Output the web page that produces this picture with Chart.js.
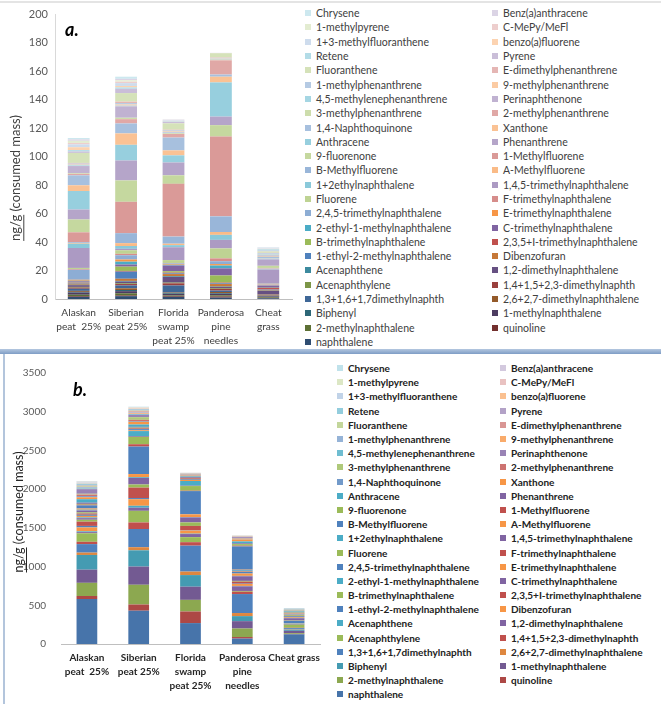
<!DOCTYPE html>
<html>
<head>
<meta charset="utf-8">
<script src="https://cdn.jsdelivr.net/npm/chart.js@4.4.1/dist/chart.umd.min.js"></script>
<style>
  body { margin: 0; background: #fff; width: 661px; height: 704px; position: relative; overflow: hidden; font-family: Lato, "Open Sans", sans-serif; }
  .box { position: absolute; }
  .legend { position: absolute; display: grid; grid-auto-flow: row; }
  .legend div { white-space: nowrap; display: flex; align-items: center; }
  .legend .sw { display: inline-block; width: 6px; height: 6px; margin-right: 5px; flex: none; }
  .tag { position: absolute; font-weight: bold; font-style: italic; font-size: 18px; color: #000; }
</style>
</head>
<body>
<div class="box" style="left:0;top:1px;width:661px;height:2px;background:#e4e4e4"></div>
<div class="box" style="left:0;top:0;width:300px;height:347px"><canvas id="topChart"></canvas></div>
<div id="topLegend" class="legend" style="left:305px;top:6px;grid-template-columns:187px 170px;grid-auto-rows:14.3px;font-size:10.5px;color:#404040"></div>
<div class="tag" style="left:65px;top:18px">a.</div>

<div class="box" style="left:0;top:349px;width:661px;height:5px;background:linear-gradient(#b4c7e0,#7e9dc5)"></div>
<div class="box" style="left:3px;top:354px;width:2px;height:350px;background:#b3c5dc"></div>
<div class="box" style="left:0;top:352px;width:330px;height:352px"><canvas id="botChart"></canvas></div>
<div id="botLegend" class="legend" style="left:337px;top:361px;grid-template-columns:163px 170px;grid-auto-rows:14.2px;font-size:10px;font-weight:bold;color:#222"></div>
<div class="tag" style="left:73px;top:378px">b.</div>

<script>
// series in stacking order, bottom first
const compounds = ['naphthalene', 'quinoline', '2-methylnaphthalene', '1-methylnaphthalene', 'Biphenyl',
  '2,6+2,7-dimethylnaphthalene', '1,3+1,6+1,7dimethylnaphth', '1,4+1,5+2,3-dimethylnaphth', 'Acenaphthylene',
  '1,2-dimethylnaphthalene', 'Acenaphthene', 'Dibenzofuran', '1-ethyl-2-methylnaphthalene',
  '2,3,5+I-trimethylnaphthalene', 'B-trimethylnaphthalene', 'C-trimethylnaphthalene', '2-ethyl-1-methylnaphthalene',
  'E-trimethylnaphthalene', '2,4,5-trimethylnaphthalene', 'F-trimethylnaphthalene', 'Fluorene',
  '1,4,5-trimethylnaphthalene', '1+2ethylnaphthalene', 'A-Methylfluorene', 'B-Methylfluorene', '1-Methylfluorene',
  '9-fluorenone', 'Phenanthrene', 'Anthracene', 'Xanthone', '1,4-Naphthoquinone', '2-methylphenanthrene',
  '3-methylphenanthrene', 'Perinaphthenone', '4,5-methylenephenanthrene', '9-methylphenanthrene',
  '1-methylphenanthrene', 'E-dimethylphenanthrene', 'Fluoranthene', 'Pyrene', 'Retene', 'benzo(a)fluorene',
  '1+3-methylfluoranthene', 'C-MePy/MeFl', '1-methylpyrene', 'Benz(a)anthracene', 'Chrysene'];

const topLabels = [['Alaskan', 'peat  25%'], ['Siberian', 'peat 25%'], ['Florida', 'swamp', 'peat 25%'], ['Panderosa', 'pine', 'needles'], ['Cheat', 'grass']];
const botLabels = [['Alaskan', 'peat  25%'], ['Siberian', 'peat 25%'], ['Florida', 'swamp', 'peat 25%'], ['Panderosa', 'pine', 'needles'], ['Cheat grass']];

// panel a, ng/g per compound (same order as compounds)
const topAlaskan = [1.5,0.5,1.0,1.5,0.5,0.7,1.5,0.8,0.5,1.2,0.3,0.8, 0.6,0.3,0.3,0.5,0.3,0.7,7,0.5,0.8,14,3,0.5, 0.5,7,9,7,13,4,7,1,0.5,5,0.5,0.5, 0.7,0.5,7,1,1,2,2,1,1.5,1,1];
const topSiberian = [2,0.5,1.5,1.5,0.8,1.2,2,1,0.5,1.2,0.5,1.5, 5,0.5,3,1.5,2,1.5,3,1,2.5,1,2,2, 7,22,15,14,11,8,7,3,1,8,0.5,0.8, 1,1,6,3,1,1,2,1,1,1,1.5];
const topFlorida = [1.5,0.5,0.5,1,0.5,0.5,5,1.5,0.5,4,0.5,1.5, 0.5,0.5,1,4,0.5,0.5,0.5,0.3,2,9,1.5,1, 5,37,6,9,5,3.5,9,2.5,0.5,0.5,0.5,0.5, 0.5,0.5,4.5,1,0.3,0.2,0.5,0.2,0.2,0.3,0];
const topPanderosa = [1,0.8,0.8,1,0.5,0.8,1,1.2,0.5,0.8,0.3,1.8, 0.5,0.5,5,5,2,1,2,2,7,6,3.5,2, 11,56,8,6,24,4,1.5,10,0.5,0.3,0.3,0.3, 0.3,0.3,3,0.2,0,0,0,0,0,0,0];
const topCheat = [0.5,0.3,0.5,0.5,0.3,0.3,0.3,0.3,0.2,2.5,0.2,0.5, 0.3,1,0.2,1.5,0.2,0.3,0.2,0.3,0.3,10,0.3,0.2, 0.3,0.3,1.5,4.5,0.5,0.2,1,0.3,0.5,0.5,0.5,0.3, 0.5,0.3,1,0.5,1,0.2,0.3,0.2,0.2,0.2,0.3];

// panel b
const botAlaskan = [580,40,170,170,190,30,110,30,110,15,10,50, 20,55,25,20,10,20,15,15,15,25,10,15, 40,10,10,15,45,25,15,20,10,60,10,5, 10,5,15,10,15,5,10,5,5,5,5];
const botSiberian = [430,80,255,235,210,40,235,85,150,40,25,85, 15,135,40,85,10,40,355,30,95,10,65,10, 15,10,10,10,30,35,10,15,35,30,10,10, 10,15,10,10,10,5,5,5,5,5,5];
const botFlorida = [270,150,150,170,150,45,335,45,65,40,5,40, 5,55,45,65,5,35,300,5,60,5,60,15, 10,10,5,10,10,10,5,5,3,5,2,2, 2,2,2,2,2,1,1,1,1,1,1];
const botPanderosa = [70,20,110,95,65,40,245,30,10,60,5,25, 5,25,10,60,5,30,20,5,5,5,10,5, 300,10,20,10,25,25,5,5,5,15,2,2, 2,3,2,3,2,2,1,1,1,1,1];
const botCheat = [125,5,10,30,15,5,15,5,40,10,5,5, 30,3,5,25,5,10,10,5,10,5,5,10, 5,3,5,5,10,3,3,2,5,3,5,2, 3,2,2,2,5,1,1,1,1,1,1];

const topSamples = [topAlaskan, topSiberian, topFlorida, topPanderosa, topCheat];
const botSamples = [botAlaskan, botSiberian, botFlorida, botPanderosa, botCheat];

// Office 2007 accent cycle, shaded per group of six
const hues = ['#4F81BD', '#C0504D', '#9BBB59', '#8064A2', '#4BACC6', '#F79646'];
const topShade = [-0.4, -0.2, 0, 0.35, 0.42, 0.5, 0.58, 0.72];
const botShade = [-0.1, 0, 0, 0, 0, 0.2, 0.4, 0.65];

function shade(hex, t) {
  const n = parseInt(hex.slice(1), 16);
  const rgb = [(n >> 16) & 255, (n >> 8) & 255, n & 255].map(c => Math.round(t < 0 ? c * (1 + t) : c + (255 - c) * t));
  return 'rgb(' + rgb.join(',') + ')';
}
function colorOf(i, shades) {
  return shade(hues[i % 6], shades[Math.floor(i / 6)]);
}

function buildLegend(id, shades) {
  const el = document.getElementById(id);
  for (let i = compounds.length - 1; i >= 0; i--) {
    const row = document.createElement('div');
    const sw = document.createElement('span');
    sw.className = 'sw';
    sw.style.background = colorOf(i, shades);
    row.appendChild(sw);
    row.appendChild(document.createTextNode(compounds[i]));
    el.appendChild(row);
  }
}
buildLegend('topLegend', topShade);
buildLegend('botLegend', botShade);

const yTitle = {
  id: 'yTitle',
  afterDraw(chart, args, o) {
    const ctx = chart.ctx;
    ctx.save();
    ctx.translate(o.x, o.y);
    ctx.rotate(-Math.PI / 2);
    ctx.font = o.font;
    ctx.fillStyle = o.color;
    ctx.textAlign = 'center';
    ctx.textBaseline = 'middle';
    ctx.fillText(o.text, 0, 0);
    const full = ctx.measureText(o.text).width;
    const uw = ctx.measureText('ng/g').width;
    ctx.strokeStyle = o.color;
    ctx.lineWidth = 1;
    ctx.beginPath();
    ctx.moveTo(-full / 2, o.size * 0.6);
    ctx.lineTo(-full / 2 + uw, o.size * 0.6);
    ctx.stroke();
    ctx.restore();
  }
};

function stackedChart(id, labels, samples, shades, cfg) {
  return new Chart(document.getElementById(id), {
    type: 'bar',
    data: {
      labels: labels,
      datasets: compounds.map((name, i) => ({
        label: name,
        data: samples.map(s => s[i]),
        backgroundColor: colorOf(i, shades),
        borderWidth: 0,
        barPercentage: cfg.bar,
        categoryPercentage: 1
      }))
    },
    options: {
      responsive: true,
      maintainAspectRatio: false,
      animation: false,
      layout: { padding: cfg.padding },
      plugins: {
        legend: { display: false },
        tooltip: { enabled: false },
        yTitle: cfg.title
      },
      scales: {
        x: {
          stacked: true,
          grid: { display: false, drawTicks: false },
          border: { color: '#bfbfbf' },
          ticks: { color: cfg.xColor, font: cfg.xFont, padding: 7, maxRotation: 0, autoSkip: false },
          afterFit: s => { s.height = cfg.xHeight; }
        },
        y: {
          stacked: true,
          min: 0,
          max: cfg.max,
          grid: { display: false, drawTicks: false },
          border: { color: cfg.yBorder },
          ticks: { stepSize: cfg.step, color: '#595959', font: cfg.yFont, padding: cfg.yPad, callback: v => String(v) },
          afterFit: s => { s.width = cfg.yWidth; }
        }
      }
    },
    plugins: [yTitle]
  });
}

stackedChart('topChart', topLabels, topSamples, topShade, {
  bar: 0.46,
  padding: { top: 14, right: 8, left: 0, bottom: 0 },
  title: { text: 'ng/g (consumed mass)', x: 16, y: 178, size: 13, font: '13px Lato, sans-serif', color: '#404040' },
  xColor: '#404040',
  xFont: { family: 'Lato', size: 10.2, lineHeight: 1.37 },
  xHeight: 48,
  max: 200, step: 20,
  yBorder: '#d9d9d9',
  yFont: { family: 'Lato', size: 11 },
  yPad: 7,
  yWidth: 55
});

stackedChart('botChart', botLabels, botSamples, botShade, {
  bar: 0.40,
  padding: { top: 19, right: 10, left: 0, bottom: 0 },
  title: { text: 'ng/g (consumed mass)', x: 19, y: 160, size: 12.5, font: '12.5px Lato, sans-serif', color: '#262626' },
  xColor: '#262626',
  xFont: { family: 'Lato', size: 10, weight: 'bold', lineHeight: 1.4 },
  xHeight: 60,
  max: 3500, step: 500,
  yBorder: 'rgba(0,0,0,0)',
  yFont: { family: 'Lato', size: 10 },
  yPad: 15,
  yWidth: 61
});
</script>
</body>
</html>
